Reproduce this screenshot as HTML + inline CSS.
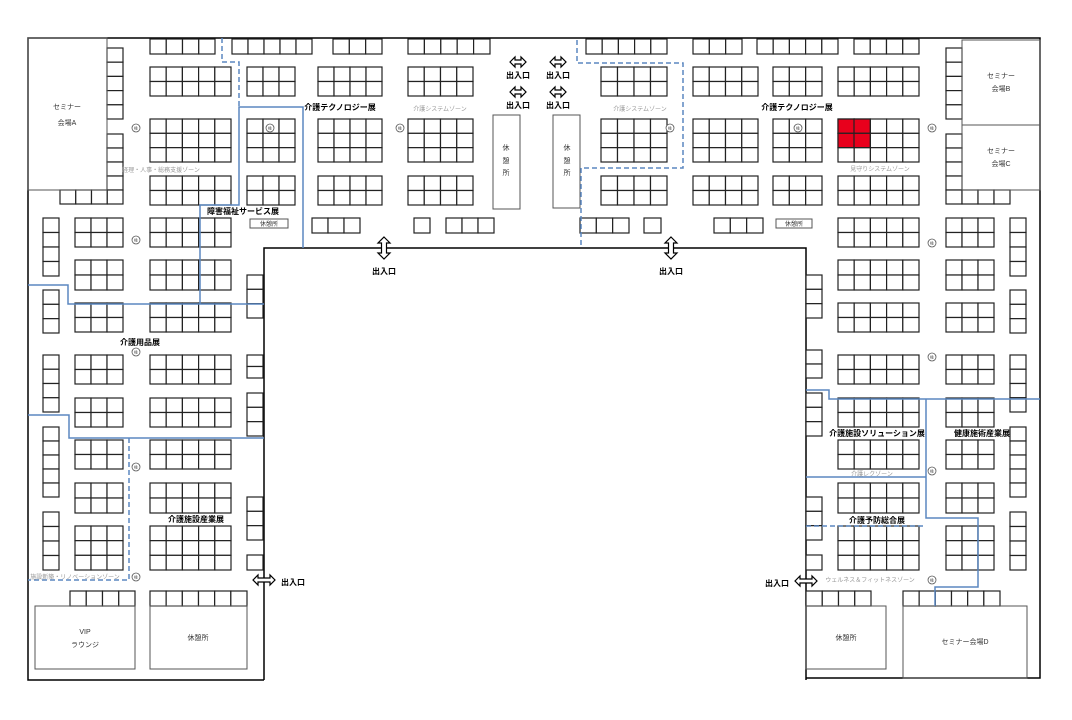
<!DOCTYPE html>
<html><head><meta charset="utf-8"><style>
body{margin:0;background:#fff}
svg{display:block}
text{font-family:"Liberation Sans","Noto Sans CJK JP",sans-serif}
.b{font-size:8px;font-weight:bold;fill:#000;text-anchor:middle}
.g{font-size:6px;fill:#999;text-anchor:middle}
.n{font-size:7px;fill:#333;text-anchor:middle}
</style></head><body>
<svg id="s" width="1072" height="720" viewBox="0 0 1072 720" xmlns="http://www.w3.org/2000/svg">
<g fill="none" stroke="#000" stroke-width="1.5">
<polyline points="264,680 28,680 28,38 1040,38 1040,678 806,678"/>
<polyline points="264,680 264,248 806,248 806,680"/>
</g>
<g id="booths" fill="#fff" stroke="#222" stroke-width="1.2"></g>
<g fill="none" stroke="#555" stroke-width="1">
<rect x="28" y="38" width="79" height="152"/>
<rect x="962" y="40" width="78" height="85"/>
<rect x="962" y="125" width="78" height="65"/>
<rect x="493" y="115" width="27" height="94"/>
<rect x="553" y="115" width="27" height="93"/>
<rect x="250" y="219" width="38" height="9"/>
<rect x="776" y="219" width="36" height="9"/>
<rect x="35" y="606" width="100" height="63"/>
<rect x="150" y="606" width="97" height="63"/>
<rect x="806" y="606" width="80" height="63"/>
<rect x="903" y="606" width="124" height="72"/>
</g>
<g fill="none" stroke="#5b87c0" stroke-width="1.5">
<polyline points="200,304 200,205 239,205 239,107 303,107 303,248"/>
<polyline points="28,285 68,285 68,304 264,304"/>
<polyline points="28,415 69,415 69,438 264,438"/>
<polyline points="806,390 829,390 829,399 1040,399"/>
<polyline points="926,399 926,518 978,518 978,587 935,587 935,606"/>
<polyline points="806,477 926,477"/>
</g>
<g fill="none" stroke="#5b87c0" stroke-width="1.5" stroke-dasharray="5,3">
<polyline points="222,38 222,62 239,62 239,107"/>
<polyline points="577,40 577,63 683,63 683,168 581,168 581,248"/>
<polyline points="129,438 129,580 28,580"/>
<polyline points="806,526 926,526"/>
</g>
<g id="pil" fill="#fff" stroke="#555" stroke-width="0.8"></g>
<g fill="#fff" stroke="#000" stroke-width="1.2" id="arr"></g>
<text class="n" x="67" y="109">セミナー</text><text class="n" x="67" y="125">会場A</text>
<text class="n" x="1001" y="78">セミナー</text><text class="n" x="1001" y="91">会場B</text>
<text class="n" x="1001" y="153">セミナー</text><text class="n" x="1001" y="166">会場C</text>
<text class="n" x="506" y="150">休</text><text class="n" x="506" y="163">憩</text><text class="n" x="506" y="175">所</text>
<text class="n" x="567" y="150">休</text><text class="n" x="567" y="163">憩</text><text class="n" x="567" y="175">所</text>
<text class="n" x="269" y="226" style="font-size:6px">休憩所</text>
<text class="n" x="794" y="226" style="font-size:6px">休憩所</text>
<text class="n" x="85" y="634">VIP</text><text class="n" x="85" y="647">ラウンジ</text>
<text class="n" x="198" y="640">休憩所</text>
<text class="n" x="846" y="640">休憩所</text>
<text class="n" x="965" y="644">セミナー会場D</text>
<text class="b" x="340" y="110">介護テクノロジー展</text>
<text class="b" x="797" y="110">介護テクノロジー展</text>
<text class="b" x="243" y="214">障害福祉サービス展</text>
<text class="b" x="140" y="345">介護用品展</text>
<text class="b" x="196" y="522">介護施設産業展</text>
<text class="b" x="877" y="436">介護施設ソリューション展</text>
<text class="b" x="982" y="436">健康施術産業展</text>
<text class="b" x="877" y="523">介護予防総合展</text>
<text class="b" x="518" y="78">出入口</text><text class="b" x="558" y="78">出入口</text>
<text class="b" x="518" y="108">出入口</text><text class="b" x="558" y="108">出入口</text>
<text class="b" x="384" y="274">出入口</text><text class="b" x="671" y="274">出入口</text>
<text class="b" x="293" y="585">出入口</text><text class="b" x="777" y="586">出入口</text>
<text class="g" x="440" y="111">介護システムゾーン</text>
<text class="g" x="640" y="111">介護システムゾーン</text>
<text class="g" x="161" y="172">経理・人事・総務支援ゾーン</text>
<text class="g" x="880" y="171">見守りシステムゾーン</text>
<text class="g" x="872" y="476">介護レクゾーン</text>
<text class="g" x="870" y="582">ウェルネス＆フィットネスゾーン</text>
<text class="g" x="75" y="579">施設新築・リノベーションゾーン</text>
</svg>
<script>
var NS="http://www.w3.org/2000/svg",B=document.getElementById("booths");
function G(x1,x2,y1,y2,c,r,red){var cw=(x2-x1)/c,ch=(y2-y1)/r;for(var i=0;i<c;i++)for(var j=0;j<r;j++){var e=document.createElementNS(NS,"rect");e.setAttribute("x",x1+i*cw);e.setAttribute("y",y1+j*ch);e.setAttribute("width",cw);e.setAttribute("height",ch);B.appendChild(e);}}
// top row
G(150,215,39,54,4,1);G(232,312,39,54,5,1);G(333,382,39,54,3,1);G(408,490,39,54,5,1);
G(586,667,39,54,5,1);G(693,742,39,54,3,1);G(757,838,39,54,5,1);G(854,919,39,54,4,1);
// rows 2-4
[[67,96,2],[119,162,3],[176,205,2]].forEach(function(r){
G(150,231,r[0],r[1],5,r[2]);G(247,295,r[0],r[1],3,r[2]);G(318,382,r[0],r[1],4,r[2]);G(408,473,r[0],r[1],4,r[2]);
G(601,667,r[0],r[1],4,r[2]);G(693,758,r[0],r[1],4,r[2]);G(773,822,r[0],r[1],3,r[2]);G(838,919,r[0],r[1],5,r[2]);});
// row5
G(312,360,218,233,3,1);G(414,430,218,233,1,1);G(446,494,218,233,3,1);
G(580,629,218,233,3,1);G(644,661,218,233,1,1);G(714,763,218,233,3,1);
// seminar strips
G(107,123,48,119,1,5);G(107,123,134,190,1,4);G(60,123,190,204,4,1);
G(946,962,48,119,1,5);G(946,962,134,190,1,4);G(946,1010,190,204,4,1);
// left side
G(43,59,218,276,1,4);G(43,59,290,333,1,3);G(43,59,355,412,1,4);G(43,59,427,497,1,5);G(43,59,512,570,1,4);
[[218,247,2],[260,290,2],[303,332,2],[355,384,2],[398,427,2],[440,469,2],[483,513,2],[526,570,3]].forEach(function(r){
G(75,123,r[0],r[1],3,r[2]);G(150,231,r[0],r[1],5,r[2]);
G(838,919,r[0],r[1],5,r[2]);G(946,994,r[0],r[1],3,r[2]);});
G(247,263,275,318,1,3);G(247,263,355,378,1,2);G(247,263,393,436,1,3);G(247,263,497,540,1,3);G(247,263,555,570,1,1);
G(806,822,275,318,1,3);G(806,822,350,378,1,2);G(806,822,393,436,1,3);G(806,822,497,540,1,3);G(806,822,555,570,1,1);
G(1010,1026,218,276,1,4);G(1010,1026,290,333,1,3);G(1010,1026,355,412,1,4);G(1010,1026,427,497,1,5);G(1010,1026,512,570,1,4);
// bottom
G(70,135,591,606,4,1);G(150,247,591,606,6,1);G(806,871,591,606,4,1);G(903,1000,591,606,6,1);
// red
[[838,119],[854,119],[838,133.3],[854,133.3]].forEach(function(p){var e=document.createElementNS(NS,"rect");e.setAttribute("x",p[0]);e.setAttribute("y",p[1]);e.setAttribute("width",16.2);e.setAttribute("height",14.3);e.setAttribute("fill","#e8001c");e.setAttribute("stroke","#222");B.appendChild(e);});
// pillars
var P=document.getElementById("pil");
[[136,128],[136,240],[270,128],[400,128],[670,128],[798,128],[932,128],[932,243],[136,352],[136,467],[136,577],[932,357],[932,471],[932,580]].forEach(function(p){var c=document.createElementNS(NS,"circle");c.setAttribute("cx",p[0]);c.setAttribute("cy",p[1]);c.setAttribute("r",4);P.appendChild(c);var t=document.createElementNS(NS,"text");t.setAttribute("x",p[0]);t.setAttribute("y",p[1]+1.5);t.setAttribute("font-size","4");t.setAttribute("text-anchor","middle");t.setAttribute("fill","#333");t.setAttribute("stroke","none");t.textContent="柱";P.appendChild(t);});
// arrows
var A=document.getElementById("arr");
function H(cx,cy,w){var h=w/2,s=3,t=5;var pts=[[cx-h,cy],[cx-h+t,cy-5],[cx-h+t,cy-s/1.5],[cx+h-t,cy-s/1.5],[cx+h-t,cy-5],[cx+h,cy],[cx+h-t,cy+5],[cx+h-t,cy+s/1.5],[cx-h+t,cy+s/1.5],[cx-h+t,cy+5]];var e=document.createElementNS(NS,"polygon");e.setAttribute("points",pts.map(function(p){return p.join(",")}).join(" "));A.appendChild(e);}
function V(cx,cy,w){var h=w/2,t=6;var pts=[[cx,cy-h],[cx+6,cy-h+t],[cx+2.5,cy-h+t],[cx+2.5,cy+h-t],[cx+6,cy+h-t],[cx,cy+h],[cx-6,cy+h-t],[cx-2.5,cy+h-t],[cx-2.5,cy-h+t],[cx-6,cy-h+t]];var e=document.createElementNS(NS,"polygon");e.setAttribute("points",pts.map(function(p){return p.join(",")}).join(" "));A.appendChild(e);}
H(518,62,16);H(558,62,16);H(518,92,16);H(558,92,16);H(264,580,22);H(806,581,22);V(384,248,22);V(671,248,22);
</script>
</body></html>
